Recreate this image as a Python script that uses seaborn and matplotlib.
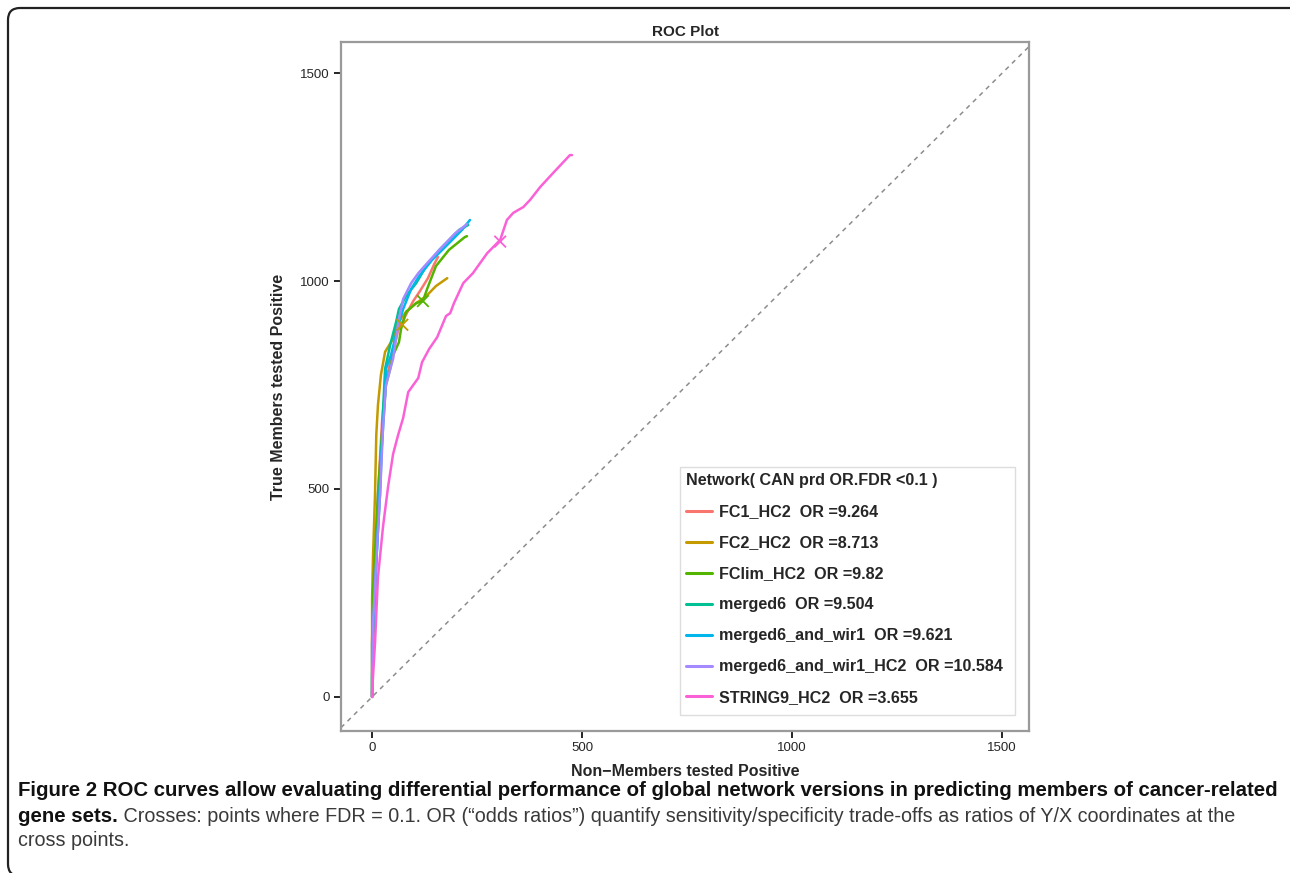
import matplotlib
matplotlib.use("Agg")
import matplotlib.pyplot as plt
from matplotlib import font_manager
from matplotlib.patches import FancyBboxPatch, Rectangle
from matplotlib.transforms import IdentityTransform
import seaborn as sns
import pandas as pd

# ---------------- data ----------------
networks = ["FC1_HC2", "FC2_HC2", "FClim_HC2", "merged6",
            "merged6_and_wir1", "merged6_and_wir1_HC2", "STRING9_HC2"]
odds_ratios = ["9.264", "8.713", "9.82", "9.504", "9.621", "10.584", "3.655"]
colors = ["#F8766D", "#C49A00", "#53B400", "#00C094", "#00B6EB", "#A58AFF", "#FB61D7"]

fc1_x = [0, 0, 7, 14, 24, 33, 48, 62, 79, 98, 114, 133, 148, 157]
fc1_y = [0, 140, 329, 488, 666, 762, 822, 881, 916, 952, 976, 1007, 1041, 1058]

fc2_x = [0, 0, 2, 7, 10, 14, 21, 31, 50, 62, 81, 105, 129, 152, 176, 179]
fc2_y = [0, 233, 329, 488, 630, 702, 774, 830, 861, 901, 926, 947, 964, 988, 1005, 1007]

fclim_x = [0, 2, 14, 26, 33, 43, 50, 64, 69, 81, 105, 121, 131, 152, 183, 221, 226]
fclim_y = [0, 250, 488, 671, 750, 789, 822, 853, 885, 926, 947, 952, 981, 1036, 1075, 1106, 1108]

merged6_x = [0, 0, 10, 19, 26, 31, 43, 57, 64, 81, 105, 129, 160, 207, 229]
merged6_y = [0, 50, 329, 488, 688, 789, 846, 901, 933, 964, 995, 1036, 1075, 1123, 1135]

wir1_x = [0, 0, 7, 14, 21, 31, 33, 45, 62, 74, 93, 112, 143, 176, 214, 233]
wir1_y = [0, 130, 250, 409, 567, 726, 789, 822, 892, 933, 981, 1012, 1051, 1084, 1123, 1147]

wir1hc2_x = [0, 2, 10, 19, 26, 33, 50, 64, 74, 93, 110, 131, 160, 198, 226]
wir1hc2_y = [0, 171, 329, 488, 647, 750, 813, 909, 957, 995, 1019, 1043, 1075, 1115, 1137]

string9_x = [0, 0, 7, 14, 26, 38, 50, 62, 74, 86, 110, 119, 136, 155, 176, 186, 195,
             217, 240, 274, 305, 321, 336, 360, 376, 400, 431, 471, 476]
string9_y = [0, 12, 130, 288, 409, 505, 584, 630, 671, 733, 767, 805, 837, 865, 916, 923, 947,
             995, 1019, 1067, 1099, 1147, 1164, 1178, 1195, 1226, 1260, 1303, 1303]

cross_net = ["FC2_HC2", "FClim_HC2", "STRING9_HC2"]
cross_x = [72, 121, 305]
cross_y = [895, 952, 1095]

xs = [fc1_x, fc2_x, fclim_x, merged6_x, wir1_x, wir1hc2_x, string9_x]
ys = [fc1_y, fc2_y, fclim_y, merged6_y, wir1_y, wir1hc2_y, string9_y]

ticks = [0, 500, 1000, 1500]

# ---------------- style ----------------
sns.set_style("white")
plt.rcParams["font.family"] = ["Liberation Sans", "DejaVu Sans"]
avail = {f.name for f in font_manager.fontManager.ttflist}
cap_font = "Liberation Sans Narrow" if "Liberation Sans Narrow" in avail else "Liberation Sans"

W, H = 1290, 873
fig = plt.figure(figsize=(W / 100, H / 100), dpi=100)
ax_left, ax_right, ax_top, ax_bottom = 341, 1029, 42, 731
ax = fig.add_axes([ax_left / W, 1 - ax_bottom / H, (ax_right - ax_left) / W, (ax_bottom - ax_top) / H])

rows = []
for name, orv, x, y in zip(networks, odds_ratios, xs, ys):
    lab = f"{name}  OR ={orv}"
    for i, (a, b) in enumerate(zip(x, y)):
        rows.append({"net": lab, "x": a, "y": b, "order": i})
df = pd.DataFrame(rows)
labels = [f"{n}  OR ={o}" for n, o in zip(networks, odds_ratios)]
palette = dict(zip(labels, colors))

ax.axline((0, 0), (1, 1), color="#8c8c8c", lw=1.1, ls=(0, (3, 3)), zorder=1)

sns.lineplot(data=df, x="x", y="y", hue="net", hue_order=labels, palette=palette,
             sort=False, estimator=None, units="net", lw=1.8, ax=ax, legend=True, zorder=3)

cross_df = pd.DataFrame({"x": cross_x, "y": cross_y,
                         "net": [labels[networks.index(n)] for n in cross_net]})
sns.scatterplot(data=cross_df, x="x", y="y", hue="net", palette=palette, marker="x",
                s=70, linewidth=1.3, ax=ax, legend=False, zorder=4)

ax.set_xlim(-74, 1564)
ax.set_ylim(-82, 1575)
ax.set_xticks(ticks)
ax.set_yticks(ticks)
ax.tick_params(axis="both", direction="out", length=5, width=1.2, color="black",
               labelsize=9.5, pad=3, left=True, bottom=True)
for sp in ax.spines.values():
    sp.set_color("#9a9a9a")
    sp.set_linewidth(1.6)

ax.set_title("ROC Plot", fontsize=11, fontweight="bold", pad=4)
ax.set_xlabel("Non\u2212Members tested Positive", fontsize=11.5, fontweight="bold", labelpad=7)
ax.set_ylabel("True Members tested Positive", fontsize=11.5, fontweight="bold", labelpad=10)

# legend frame drawn separately (reference box has extra room at the bottom)
ax_w, ax_h = ax_right - ax_left, ax_bottom - ax_top
lx0, lx1, ly_top, ly_bot = 680, 1015, 467, 715
ax.add_patch(Rectangle(((lx0 - ax_left) / ax_w, (ax_bottom - ly_bot) / ax_h),
                       (lx1 - lx0) / ax_w, (ly_bot - ly_top) / ax_h,
                       transform=ax.transAxes, fill=True, facecolor="white",
                       edgecolor="#dddddd", lw=1.0, zorder=5))

handles, labs = ax.get_legend_handles_labels()
for h in handles:
    h.set_linewidth(2.2)
leg = ax.legend(handles, labs, title="Network( CAN prd OR.FDR <0.1 )",
                loc="upper left", bbox_to_anchor=((lx0 - ax_left) / ax_w, (ax_bottom - ly_top) / ax_h),
                borderaxespad=0,
                prop={"weight": "bold", "size": 11.6}, title_fontproperties={"weight": "bold", "size": 11.6},
                frameon=False, labelspacing=0.99,
                handlelength=1.6, handletextpad=0.45, borderpad=0.4, alignment="left")
leg.set_zorder(6)

# ---------------- figure border ----------------
border = FancyBboxPatch((8, -3), 1300, 868, boxstyle="round,pad=0,rounding_size=12",
                        transform=IdentityTransform(), fill=False, edgecolor="#222222",
                        lw=1.6, clip_on=False)
fig.patches.append(border)

# ---------------- caption ----------------
renderer = fig.canvas.get_renderer()
line1 = ("Figure 2 ROC curves allow evaluating differential performance of global network "
         "versions in predicting members of cancer-related")
t1 = fig.text(18 / W, 1 - 791 / H, line1, fontsize=14, fontweight="bold", family=cap_font,
              va="center", ha="left", color="#111111")
w1 = t1.get_window_extent(renderer).width
fs = 14 * (1265 / w1)
t1.set_fontsize(fs)

t2a = fig.text(18 / W, 1 - 816 / H, "gene sets.", fontsize=fs, fontweight="bold",
               family=cap_font, va="center", ha="left", color="#111111")
wa = t2a.get_window_extent(renderer).width
fig.text((18 + wa) / W, 1 - 816 / H,
         " Crosses: points where FDR = 0.1. OR (\u201codds ratios\u201d) quantify sensitivity/specificity "
         "trade-offs as ratios of Y/X coordinates at the",
         fontsize=fs * 0.97, family=cap_font, va="center", ha="left", color="#3a3a3a")
fig.text(18 / W, 1 - 841 / H, "cross points.", fontsize=fs * 0.97, family=cap_font,
         va="center", ha="left", color="#3a3a3a")

fig.savefig("out.png", dpi=100)
